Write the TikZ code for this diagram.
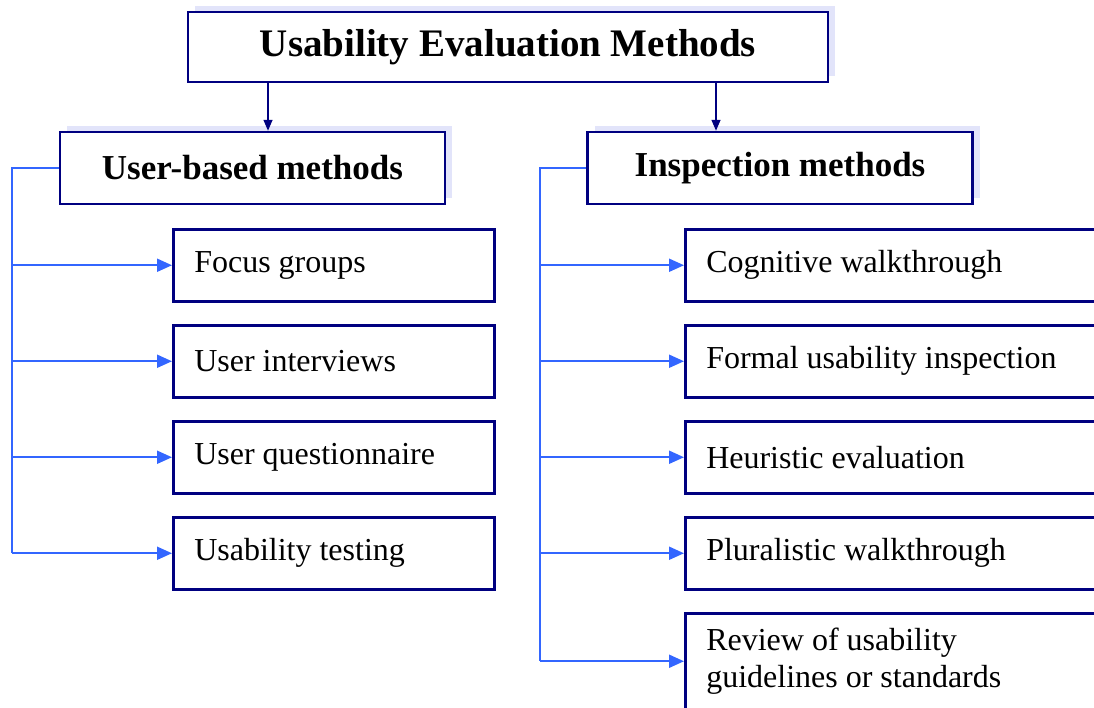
\documentclass[tikz,border=0pt]{standalone}
\usepackage{fontspec}
\setmainfont{Liberation Serif}
\usetikzlibrary{arrows.meta, positioning, shadows}
\definecolor{uemNavy}{RGB}{0,0,128}
\definecolor{uemBlue}{RGB}{51,102,255}
\definecolor{uemShade}{RGB}{226,228,250}
\tikzstyle{titlebox}=[draw=uemNavy, line width=2.5pt, fill=white, minimum width=640pt, minimum height=70pt, font=\fontsize{39}{44}\selectfont\bfseries, general shadow={fill=uemShade, draw=none, shadow xshift=7pt, shadow yshift=6pt}]
\tikzstyle{headbox}=[draw=uemNavy, line width=2.5pt, fill=white, minimum width=385pt, minimum height=72pt, font=\fontsize{35}{40}\selectfont\bfseries, general shadow={fill=uemShade, draw=none, shadow xshift=7pt, shadow yshift=6pt}]
\tikzstyle{itembox}=[draw=uemNavy, line width=2.5pt, fill=white, minimum height=72pt, inner xsep=21pt, align=flush left, font=\fontsize{32}{37}\selectfont]
\tikzstyle{trunk}=[draw=uemBlue, line width=2pt]
\tikzstyle{branch}=[trunk, -{Triangle[length=15pt, width=13pt]}]
\tikzstyle{downarrow}=[draw=uemNavy, line width=1.5pt, -{Triangle[length=11pt, width=9pt]}]

\begin{document}
\begin{tikzpicture}[x=1pt, y=-1pt, node distance=21.5pt]
	\useasboundingbox (0,0) rectangle (1094,707);
	\clip (0,0) rectangle (1094,707);

	% Top level
	\node[titlebox] (uem) at (508,47) {Usability Evaluation Methods};
	\node[headbox] (ub) at (252.5,168) {User-based methods};
	\node[headbox] (im) at (780,168) {Inspection methods};

	\coordinate (ubin) at ([xshift=15.5pt]ub.north);
	\coordinate (imin) at ([xshift=-64pt]im.north);
	\draw[downarrow] (ubin |- uem.south) -- (ubin);
	\draw[downarrow] (imin |- uem.south) -- (imin);

	% User-based methods
	\node[itembox, text width=279pt, anchor=north west] (fg) at (172,228) {Focus groups};
	\node[itembox, text width=279pt, below=of fg] (ui) {User interviews};
	\node[itembox, text width=279pt, below=of ui] (uq) {User questionnaire};
	\node[itembox, text width=279pt, below=of uq] (ut) {Usability testing};

	\coordinate (ltrunk) at (12,168);
	\draw[trunk] (ub.west) -- (ltrunk) -- (ltrunk |- ut.west);
	\foreach \n in {fg, ui, uq, ut}{ \draw[branch] (ltrunk |- \n.west) -- (\n.west); }

	% Inspection methods
	\node[itembox, text width=388pt, anchor=north west] (cw) at (684,228) {Cognitive walkthrough};
	\node[itembox, text width=388pt, below=of cw] (fu) {Formal usability inspection};
	\node[itembox, text width=388pt, below=of fu] (he) {Heuristic evaluation};
	\node[itembox, text width=388pt, below=of he] (pw) {Pluralistic walkthrough};
	\node[itembox, text width=388pt, minimum height=96pt, below=of pw] (rg) {Review of usability\\guidelines or standards};

	\coordinate (rtrunk) at (540,168);
	\draw[trunk] (im.west) -- (rtrunk) -- (rtrunk |- rg.west);
	\foreach \n in {cw, fu, he, pw, rg}{ \draw[branch] (rtrunk |- \n.west) -- (\n.west); }
\end{tikzpicture}
\end{document}
